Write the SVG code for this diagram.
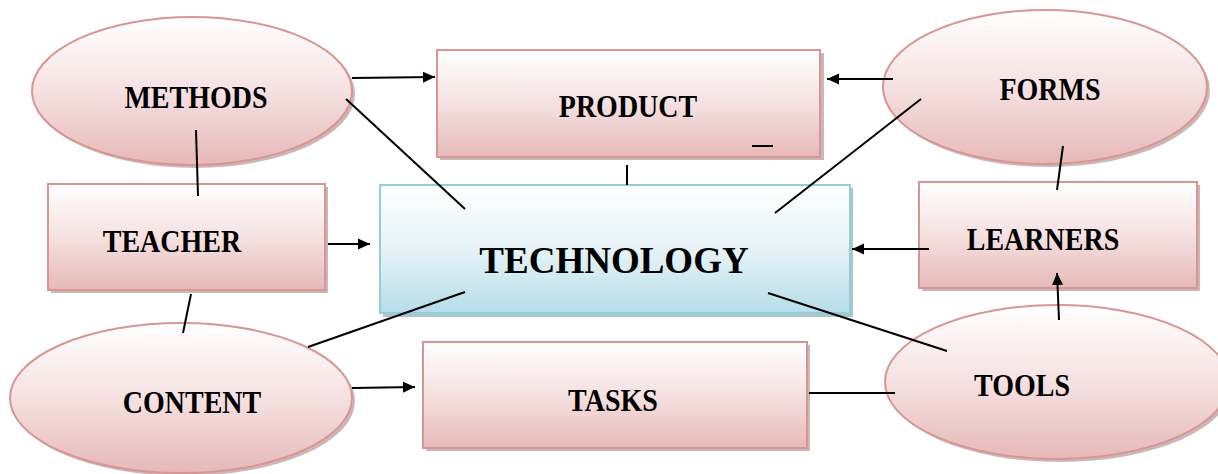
<svg xmlns="http://www.w3.org/2000/svg" width="1218" height="474" viewBox="0 0 1218 474">
<defs>
<linearGradient id="pink" x1="0" y1="0" x2="0" y2="1">
<stop offset="0" stop-color="#ffffff"/>
<stop offset="0.5" stop-color="#f5e1e1"/>
<stop offset="1" stop-color="#e6b9b8"/>
</linearGradient>
<linearGradient id="blue" x1="0" y1="0" x2="0" y2="1">
<stop offset="0" stop-color="#ffffff"/>
<stop offset="0.5" stop-color="#e6f3f6"/>
<stop offset="1" stop-color="#b7dde8"/>
</linearGradient>
<marker id="arr" viewBox="0 0 12 12" refX="12" refY="6" markerWidth="12" markerHeight="12" markerUnits="userSpaceOnUse" orient="auto">
<path d="M0,0.5 L12,6 L0,11.5 z" fill="#000"/>
</marker>
</defs>
<style>
.n{fill:url(#pink);stroke:#d99594;stroke-width:2}
.t{fill:url(#blue);stroke:#92cddc;stroke-width:2}
.sh{fill:#b09090;opacity:0.65}
.shb{fill:#8fb3bd;opacity:0.75}
.lb{font-family:"Liberation Serif","Times New Roman",serif;font-weight:bold;font-size:28px;fill:#000;text-anchor:middle}
.big{font-size:37px}
.c{stroke:#000;stroke-width:2;fill:none}
.a{stroke:#000;stroke-width:2;fill:none;marker-end:url(#arr)}
</style>
<rect width="1218" height="474" fill="#fff"/>

<g id="product">
<rect class="sh" x="440" y="53" width="384" height="107"/>
<rect class="n" x="437" y="50" width="383" height="107"/>
<text class="lb" x="628" y="117" transform="matrix(1,0,0,1.12,0,-14.04)">PRODUCT</text>
<line x1="752" y1="146" x2="773" y2="146" stroke="#000" stroke-width="2"/>
</g>

<g id="technology">
<rect class="shb" x="383" y="188" width="470" height="129"/>
<rect class="t" x="380" y="185" width="470" height="128"/>
<text class="lb big" x="614" y="273">TECHNOLOGY</text>
</g>

<g id="methods">
<ellipse class="sh" cx="195" cy="94" rx="160" ry="74"/>
<ellipse class="n" cx="192" cy="91" rx="160" ry="74"/>
<text class="lb" x="196" y="108" transform="matrix(1,0,0,1.12,0,-12.96)">METHODS</text>
</g>

<g id="teacher">
<rect class="sh" x="51" y="187" width="277" height="106"/>
<rect class="n" x="48" y="184" width="277" height="106"/>
<text class="lb" x="172" y="252" transform="matrix(1,0,0,1.12,0,-30.24)">TEACHER</text>
</g>

<g id="content">
<ellipse class="sh" cx="184" cy="401" rx="171" ry="75"/>
<ellipse class="n" cx="181" cy="398" rx="171" ry="75"/>
<text class="lb" x="192" y="413" transform="matrix(1,0,0,1.12,0,-49.56)">CONTENT</text>
</g>

<g id="tasks">
<rect class="sh" x="426" y="345" width="384" height="106"/>
<rect class="n" x="423" y="342" width="384" height="106"/>
<text class="lb" x="613" y="411" transform="matrix(1,0,0,1.12,0,-49.32)">TASKS</text>
</g>

<g id="forms">
<ellipse class="sh" cx="1048" cy="90" rx="162" ry="77"/>
<ellipse class="n" cx="1045" cy="87" rx="162" ry="77"/>
<text class="lb" x="1050" y="100" transform="matrix(1,0,0,1.12,0,-12)">FORMS</text>
</g>

<g id="learners">
<rect class="sh" x="922" y="185" width="278" height="106"/>
<rect class="n" x="919" y="182" width="278" height="106"/>
<text class="lb" x="1043" y="250" transform="matrix(1,0,0,1.12,0,-30)">LEARNERS</text>
</g>

<g id="tools">
<ellipse class="sh" cx="1060" cy="385" rx="172" ry="77"/>
<ellipse class="n" cx="1057" cy="382" rx="172" ry="77"/>
<text class="lb" x="1022" y="396" transform="matrix(1,0,0,1.12,0,-47.52)">TOOLS</text>
</g>

<g id="connectors">
<line class="a" x1="352" y1="78" x2="435" y2="77"/>
<line class="c" x1="346" y1="99" x2="465" y2="209"/>
<line class="c" x1="196" y1="130" x2="198" y2="196"/>
<line class="a" x1="328" y1="244" x2="370" y2="244"/>
<line class="c" x1="191" y1="294" x2="183" y2="333"/>
<line class="c" x1="308" y1="347" x2="465" y2="292"/>
<line class="a" x1="352" y1="388" x2="415" y2="387"/>
<line class="c" x1="809" y1="393" x2="895" y2="393"/>
<line class="c" x1="768" y1="293" x2="947" y2="351"/>
<line class="a" x1="1059" y1="320" x2="1057" y2="273"/>
<line class="c" x1="1063" y1="146" x2="1057" y2="190"/>
<line class="a" x1="893" y1="79" x2="827" y2="79"/>
<line class="c" x1="921" y1="99" x2="775" y2="213"/>
<line class="a" x1="929" y1="249" x2="852" y2="249"/>
<line class="c" x1="627" y1="165" x2="627" y2="185"/>
</g>
</svg>
